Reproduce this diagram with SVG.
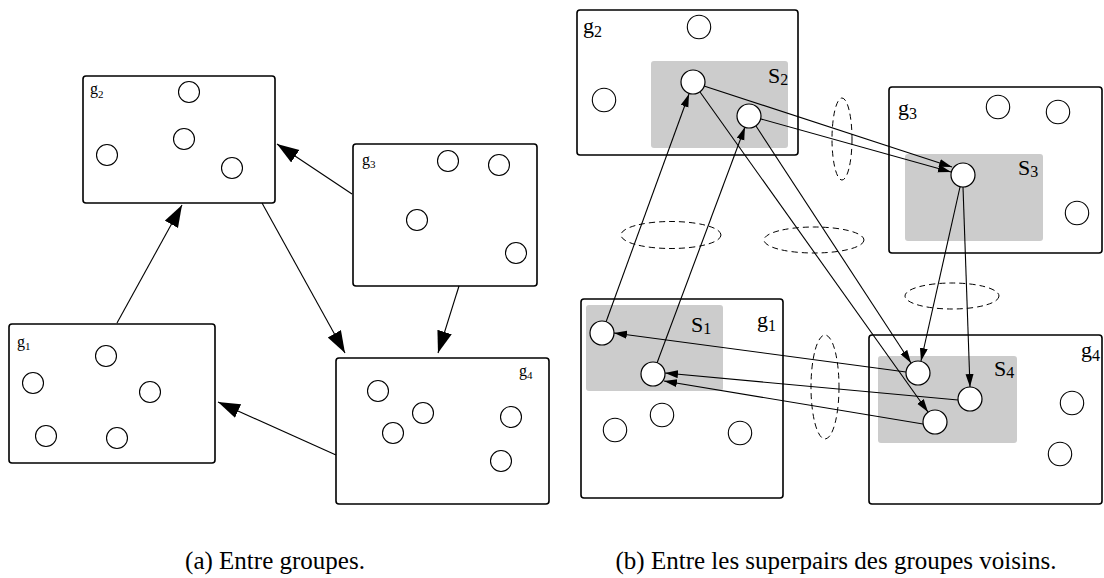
<svg xmlns="http://www.w3.org/2000/svg" width="1104" height="578" viewBox="0 0 1104 578">
<style>
.box{fill:#fff;stroke:#000;stroke-width:1.6}
.sp{fill:#cccccc;stroke:none}
.c{fill:#fff;stroke:#000;stroke-width:1.1}
.n{fill:#fff;stroke:#000;stroke-width:1.2}
.big{stroke:#000;stroke-width:1.1;fill:none;marker-end:url(#bigArrow)}
.sm{stroke:#000;stroke-width:1.1;fill:none;marker-end:url(#smArrow)}
.dash{fill:none;stroke:#000;stroke-width:1;stroke-dasharray:6 4}
.lbl{font-family:"Liberation Serif","Times New Roman",serif;font-size:16px;fill:#000}
.lblr{font-family:"Liberation Serif","Times New Roman",serif;font-size:22px;fill:#000}
.cap{font-family:"Liberation Serif","Times New Roman",serif;font-size:25px;fill:#000;text-anchor:middle}
</style>
<defs>
<marker id="bigArrow" markerUnits="userSpaceOnUse" markerWidth="22" markerHeight="16" refX="22" refY="7.5" orient="auto">
<path d="M0,0 L22,7.5 L0,15 z" fill="#000"/>
</marker>
<marker id="smArrow" markerUnits="userSpaceOnUse" markerWidth="13" markerHeight="9" refX="13" refY="4" orient="auto">
<path d="M0,0 L13,4 L0,8 z" fill="#000"/>
</marker>
</defs>
<rect width="1104" height="578" fill="#fff"/>

<!-- Panel (a) -->
<g id="a_g2">
<rect class="box" x="83" y="76" width="192" height="127" rx="3"/>
<text class="lbl" x="90" y="94">g<tspan font-size="11" dy="4">2</tspan></text>
<circle class="c" cx="189" cy="92" r="10.5"/>
<circle class="c" cx="184" cy="139" r="10.5"/>
<circle class="c" cx="107" cy="155" r="10.5"/>
<circle class="c" cx="232" cy="168" r="10.5"/>
</g>
<g id="a_g3">
<rect class="box" x="353" y="144" width="184" height="142" rx="3"/>
<text class="lbl" x="362" y="165">g<tspan font-size="11" dy="3">3</tspan></text>
<circle class="c" cx="448" cy="161" r="10.5"/>
<circle class="c" cx="499" cy="165" r="10.5"/>
<circle class="c" cx="417" cy="220" r="10.5"/>
<circle class="c" cx="516" cy="253" r="10.5"/>
</g>
<g id="a_g1">
<rect class="box" x="9" y="324" width="206" height="139" rx="3"/>
<text class="lbl" x="17" y="347">g<tspan font-size="11" dy="3">1</tspan></text>
<circle class="c" cx="106" cy="356" r="10.5"/>
<circle class="c" cx="33" cy="383" r="10.5"/>
<circle class="c" cx="150" cy="392" r="10.5"/>
<circle class="c" cx="46" cy="436" r="10.5"/>
<circle class="c" cx="117" cy="438" r="10.5"/>
</g>
<g id="a_g4">
<rect class="box" x="336" y="358" width="213" height="146" rx="3"/>
<text class="lbl" x="519" y="376">g<tspan font-size="11" dy="3">4</tspan></text>
<circle class="c" cx="378" cy="391" r="10.5"/>
<circle class="c" cx="423" cy="413" r="10.5"/>
<circle class="c" cx="393" cy="433" r="10.5"/>
<circle class="c" cx="511" cy="417" r="10.5"/>
<circle class="c" cx="501" cy="461" r="10.5"/>
</g>
<g id="a_connectors">
<line class="big" x1="117" y1="323" x2="182" y2="205"/>
<line class="big" x1="352" y1="194" x2="277" y2="144"/>
<line class="big" x1="262" y1="203" x2="345" y2="353"/>
<line class="big" x1="459" y1="286" x2="438" y2="353"/>
<line class="big" x1="336" y1="455" x2="218" y2="402"/>
</g>

<!-- Panel (b) -->
<g id="b_g2">
<rect class="box" x="577" y="10" width="221" height="145" rx="3"/>
<rect class="sp" x="651" y="61" width="137" height="87" rx="3"/>
<text class="lblr" x="583" y="33">g<tspan font-size="16" dy="4">2</tspan></text>
<text class="lblr" x="768" y="83">S<tspan font-size="16" dy="2">2</tspan></text>
<circle class="c" cx="699" cy="27" r="11.7"/>
<circle class="c" cx="604" cy="100" r="11.7"/>
</g>
<g id="b_g3">
<rect class="box" x="889" y="87" width="213" height="166" rx="3"/>
<rect class="sp" x="905" y="154" width="138" height="87" rx="3"/>
<text class="lblr" x="898" y="115">g<tspan font-size="16" dy="4">3</tspan></text>
<text class="lblr" x="1018" y="175">S<tspan font-size="16" dy="2">3</tspan></text>
<circle class="c" cx="998" cy="107" r="11.7"/>
<circle class="c" cx="1058" cy="112" r="11.7"/>
<circle class="c" cx="1077" cy="213" r="11.7"/>
</g>
<g id="b_g1">
<rect class="box" x="581" y="299" width="202" height="199" rx="3"/>
<rect class="sp" x="586" y="305" width="137" height="86" rx="3"/>
<text class="lblr" x="757" y="327">g<tspan font-size="16" dy="4">1</tspan></text>
<text class="lblr" x="691" y="332">S<tspan font-size="16" dy="2">1</tspan></text>
<circle class="c" cx="662" cy="415" r="11.7"/>
<circle class="c" cx="615" cy="430" r="11.7"/>
<circle class="c" cx="740" cy="433" r="11.7"/>
</g>
<g id="b_g4">
<rect class="box" x="869" y="335" width="233" height="169" rx="3"/>
<rect class="sp" x="878" y="356" width="139" height="87" rx="3"/>
<text class="lblr" x="1081" y="357">g<tspan font-size="16" dy="4">4</tspan></text>
<text class="lblr" x="994" y="376">S<tspan font-size="16" dy="2">4</tspan></text>
<circle class="c" cx="1072" cy="403" r="11.7"/>
<circle class="c" cx="1060" cy="454" r="11.7"/>
</g>

<g id="b_links">
<ellipse class="dash" cx="842" cy="139" rx="10" ry="41"/>
<ellipse class="dash" cx="671" cy="235" rx="50" ry="13.5"/>
<ellipse class="dash" cx="814" cy="240" rx="50" ry="13"/>
<ellipse class="dash" cx="952" cy="296" rx="47" ry="13"/>
<ellipse class="dash" cx="825" cy="387" rx="14" ry="52"/>
</g>

<g id="b_connectors">
<line class="sm" x1="606" y1="322" x2="689" y2="94"/>
<line class="sm" x1="657" y1="363" x2="745" y2="127"/>
<line class="sm" x1="704" y1="86" x2="952" y2="167"/>
<line class="sm" x1="761" y1="119" x2="951" y2="172"/>
<line class="sm" x1="700" y1="92" x2="928" y2="412"/>
<line class="sm" x1="756" y1="126" x2="911" y2="363"/>
<line class="sm" x1="960" y1="187" x2="921" y2="361"/>
<line class="sm" x1="963" y1="187" x2="970" y2="387"/>
<line class="sm" x1="906" y1="372" x2="614" y2="333"/>
<line class="sm" x1="958" y1="400" x2="665" y2="373"/>
<line class="sm" x1="923" y1="424" x2="664" y2="381"/>
</g>

<g id="b_nodes">
<circle id="nP" class="n" cx="693" cy="82" r="12"/>
<circle id="nQ" class="n" cx="749" cy="116" r="12"/>
<circle id="nS3" class="n" cx="963" cy="175" r="12"/>
<circle id="nA" class="n" cx="602" cy="333" r="12"/>
<circle id="nB" class="n" cx="653" cy="374" r="12"/>
<circle id="nDa" class="n" cx="918" cy="373" r="12"/>
<circle id="nDb" class="n" cx="970" cy="399" r="12"/>
<circle id="nDc" class="n" cx="935" cy="422" r="12"/>
</g>

<g id="captions">
<text class="cap" x="275" y="569">(a) Entre groupes.</text>
<text class="cap" x="836" y="569">(b) Entre les superpairs des groupes voisins.</text>
</g>
</svg>
